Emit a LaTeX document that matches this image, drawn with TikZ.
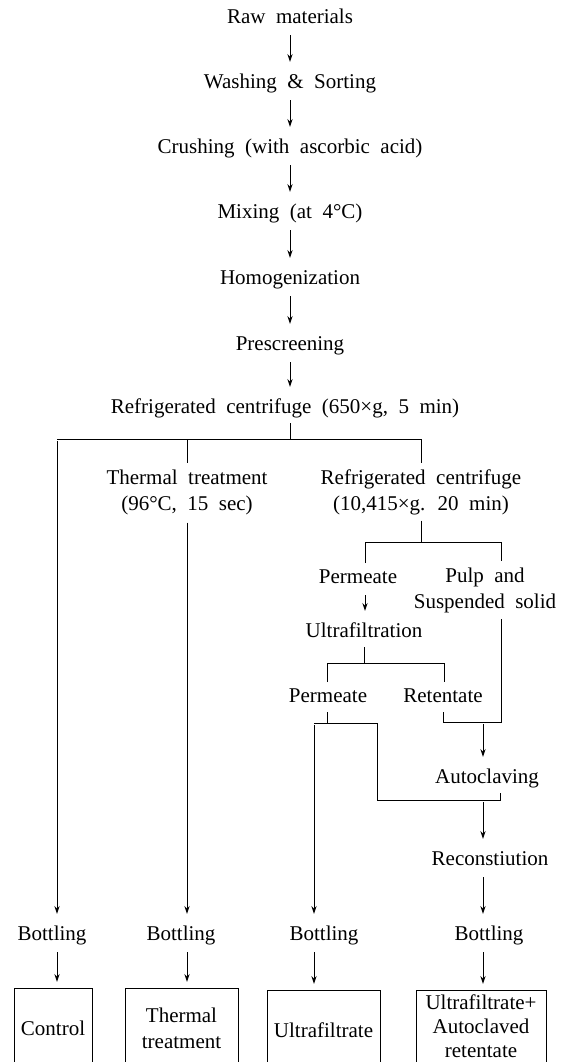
\documentclass[tikz,border=0pt]{standalone}
\usepackage{fontspec}
\setmainfont{Liberation Serif}[WordSpace=2]
\usetikzlibrary{arrows.meta}

\begin{document}
\begin{tikzpicture}[
  x=0.5pt, y=-0.5pt, line width=0.5pt,
  lbl/.style={font=\fontsize{10.5}{13}\selectfont, inner sep=0pt, outer sep=3pt, align=center},
  stage/.style={lbl, text height=7pt, text depth=2pt},
  result/.style={draw, anchor=north, minimum height=40pt, inner sep=2pt, align=center, font=\fontsize{10.5}{13}\selectfont},
  flow/.style={-{Stealth[length=4pt, width=2.6pt]}, shorten <=1pt, shorten >=3pt}
]
\useasboundingbox (0,0) rectangle (568,1062);
\clip (0,0) rectangle (568,1062);

% Main line
\node[stage] (raw) at (290,18) {Raw materials};
\node[stage] (wash) at (290,83) {Washing \& Sorting};
\node[stage] (crush) at (290,148) {Crushing (with ascorbic acid)};
\node[stage] (mix) at (290,213) {Mixing (at 4°C)};
\node[stage] (homog) at (290,279) {Homogenization};
\node[stage] (presc) at (290,345) {Prescreening};
\node[stage] (cent) at (285,408) {Refrigerated centrifuge (650×g, 5 min)};

% Branches
\node[lbl] (therm) at (187,492) {Thermal treatment\\(96°C, 15 sec)};
\node[lbl] (cent2) at (421,492) {Refrigerated centrifuge\\(10,415×g. 20 min)};
\node[stage] (perm1) at (358,578) {Permeate};
\node[lbl] (pulp) at (485,590) {Pulp and\\Suspended solid};
\node[stage] (ultra) at (364,632) {Ultrafiltration};
\node[stage] (perm2) at (328,697) {Permeate};
\node[stage] (ret) at (443,697) {Retentate};
\node[stage] (auto) at (487,778) {Autoclaving};
\node[stage] (recon) at (490,860) {Reconstiution};

% Bottling
\node[stage] (bot1) at (52,935) {Bottling};
\node[stage] (bot2) at (181,935) {Bottling};
\node[stage] (bot3) at (324,935) {Bottling};
\node[stage] (bot4) at (489,935) {Bottling};

% Products
\node[result, minimum width=39pt] (ctrl) at (53,988) {Control};
\node[result, minimum width=56.5pt] (thp) at (181.5,988) {Thermal\\treatment};
\node[result, minimum width=56.5pt] (ufp) at (323.5,990) {Ultrafiltrate};
\node[result, minimum width=65pt, minimum height=36pt, font=\fontsize{10.5}{12}\selectfont] (uap) at (481,990) {Ultrafiltrate+\\Autoclaved\\retentate};

% Junctions
\coordinate (bar) at (290,439);
\coordinate (lcol) at (57,439);
\coordinate (tcol) at (187,439);
\coordinate (rcol) at (421,439);
\coordinate (sp1) at (421,542);
\coordinate (sp1l) at (365,542);
\coordinate (sp1r) at (501,542);
\coordinate (sp2l) at (327,663);
\coordinate (sp2r) at (444,663);
\coordinate (sp3l) at (314,723);
\coordinate (sp3r) at (377,723);
\coordinate (pj) at (501,722);
\coordinate (ax) at (483,722);
\coordinate (jx) at (500,800);
\coordinate (rx) at (483,800);

% Main flow
\draw[flow] (raw) -- (wash);
\draw[flow] (wash) -- (crush);
\draw[flow] (crush) -- (mix);
\draw[flow] (mix) -- (homog);
\draw[flow] (homog) -- (presc);
\draw[flow] (presc) -- (presc |- cent.north);
\draw (cent.south -| bar) -- (bar);
\draw (lcol) -- (rcol);
\draw (tcol) -- (therm.north);
\draw (rcol) -- (cent2.north);
\draw[flow] (lcol) -- (lcol |- bot1.north);
\draw[flow] (therm.south) -- (therm.south |- bot2.north);

% Second centrifuge
\draw (cent2.south) -- (sp1);
\draw (sp1l |- perm1.north) -- (sp1l) -- (sp1r) -- (sp1r |- pulp.north);
\draw[flow] (perm1.south -| sp1l) -- (sp1l |- ultra.north);
\draw (ultra.south) -- (ultra.south |- sp2l);
\draw (sp2l |- perm2.north) -- (sp2l) -- (sp2r) -- (sp2r |- ret.north);
\draw (perm2.south -| sp2l) -- (sp2l |- sp3l);
\draw[flow] (sp3l) -- (sp3l |- bot3.north);
\draw (sp3l) -- (sp3r) -- (sp3r |- jx) -- (jx) -- (auto.south -| jx);
\draw (ret.south) -- (ret.south |- pj) -- (pj) -- (pj |- pulp.south);
\draw[flow] (ax) -- (ax |- auto.north);
\draw[flow] (rx) -- (rx |- recon.north);
\draw[flow] (recon.south -| rx) -- (rx |- bot4.north);

% To products
\draw[flow] (bot1.south -| lcol) -- (lcol |- ctrl.north);
\draw[flow] (bot2.south -| tcol) -- (tcol |- thp.north);
\draw[flow] (bot3.south -| sp3l) -- (sp3l |- ufp.north);
\draw[flow] (bot4.south -| rx) -- (rx |- uap.north);

\end{tikzpicture}
\end{document}
